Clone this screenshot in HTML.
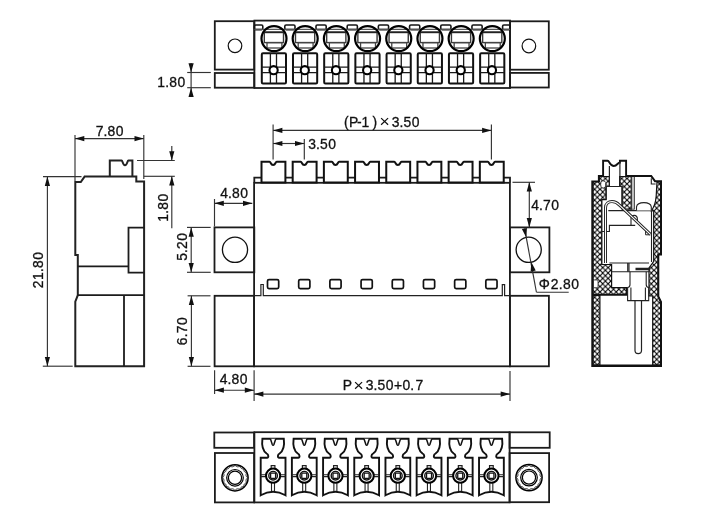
<!DOCTYPE html>
<html><head><meta charset="utf-8"><style>
html,body{margin:0;padding:0;background:#fff;}
svg{display:block;filter:grayscale(1);}
text{font-family:"Liberation Sans",sans-serif;fill:#111;stroke:#111;stroke-width:0.3px;}
</style></head><body>
<svg width="710" height="530" viewBox="0 0 710 530">
<defs>
<pattern id="xh" patternUnits="userSpaceOnUse" width="5.4" height="5.4" x="0.6" y="0.3">
<path d="M-1,-1 L6.4,6.4 M-1,6.4 L6.4,-1" stroke="#000" stroke-width="1.1"/>
</pattern>
</defs>
<g fill="none" stroke="#1c1c1c" stroke-width="1.8">
<rect x="214.8" y="21.2" width="39.4" height="48.4"/>
<rect x="214.8" y="73" width="39.4" height="14.7"/>
<rect x="510" y="21.3" width="38.8" height="48.4"/>
<rect x="510" y="72.9" width="38.8" height="14.6"/>
<rect x="254.4" y="20.6" width="255.6" height="67.4"/>
</g>
<circle cx="235" cy="45.8" r="6.8" fill="none" stroke="#111" stroke-width="1.2"/>
<circle cx="528.9" cy="46" r="6.8" fill="none" stroke="#111" stroke-width="1.2"/>
<rect x="254.40" y="25" width="8.40" height="4.6" rx="1.3" fill="none" stroke="#151515" stroke-width="1.6"/>
<rect x="284.80" y="25" width="10.20" height="4.6" rx="1.3" fill="none" stroke="#151515" stroke-width="1.6"/>
<rect x="315.99" y="25" width="10.20" height="4.6" rx="1.3" fill="none" stroke="#151515" stroke-width="1.6"/>
<rect x="347.18" y="25" width="10.20" height="4.6" rx="1.3" fill="none" stroke="#151515" stroke-width="1.6"/>
<rect x="378.37" y="25" width="10.20" height="4.6" rx="1.3" fill="none" stroke="#151515" stroke-width="1.6"/>
<rect x="409.56" y="25" width="10.20" height="4.6" rx="1.3" fill="none" stroke="#151515" stroke-width="1.6"/>
<rect x="440.75" y="25" width="10.20" height="4.6" rx="1.3" fill="none" stroke="#151515" stroke-width="1.6"/>
<rect x="471.94" y="25" width="10.20" height="4.6" rx="1.3" fill="none" stroke="#151515" stroke-width="1.6"/>
<rect x="502.60" y="25" width="7.40" height="4.6" rx="1.3" fill="none" stroke="#151515" stroke-width="1.6"/>
<path d="M254.4,29.4 H510" stroke="#555" stroke-width="1.1"/>
<rect x="264.30" y="32.3" width="19.2" height="10.3" fill="none" stroke="#3a3a3a" stroke-width="1.4"/>
<path d="M264.30,32.3 H283.50" stroke="#222" stroke-width="1.8"/>
<rect x="267.00" y="42.6" width="14.9" height="5.4" fill="none" stroke="#444" stroke-width="1.3"/>
<circle cx="274.00" cy="38.6" r="12.5" fill="none" stroke="#000" stroke-width="2.2"/>
<rect x="261.80" y="53.3" width="24.2" height="30.2" rx="1.2" fill="none" stroke="#111" stroke-width="2"/>
<path d="M270.40,53.3 V83.5 M276.50,53.3 V83.5 M261.80,67.2 H286.00 M261.80,72.6 H286.00" stroke="#1a1a1a" stroke-width="1.3" fill="none"/>
<circle cx="273.60" cy="70.2" r="4.1" fill="#fff" stroke="#000" stroke-width="2.1"/>
<rect x="295.49" y="32.3" width="19.2" height="10.3" fill="none" stroke="#3a3a3a" stroke-width="1.4"/>
<path d="M295.49,32.3 H314.69" stroke="#222" stroke-width="1.8"/>
<rect x="298.19" y="42.6" width="14.9" height="5.4" fill="none" stroke="#444" stroke-width="1.3"/>
<circle cx="305.19" cy="38.6" r="12.5" fill="none" stroke="#000" stroke-width="2.2"/>
<rect x="292.99" y="53.3" width="24.2" height="30.2" rx="1.2" fill="none" stroke="#111" stroke-width="2"/>
<path d="M301.59,53.3 V83.5 M307.69,53.3 V83.5 M292.99,67.2 H317.19 M292.99,72.6 H317.19" stroke="#1a1a1a" stroke-width="1.3" fill="none"/>
<circle cx="304.79" cy="70.2" r="4.1" fill="#fff" stroke="#000" stroke-width="2.1"/>
<rect x="326.68" y="32.3" width="19.2" height="10.3" fill="none" stroke="#3a3a3a" stroke-width="1.4"/>
<path d="M326.68,32.3 H345.88" stroke="#222" stroke-width="1.8"/>
<rect x="329.38" y="42.6" width="14.9" height="5.4" fill="none" stroke="#444" stroke-width="1.3"/>
<circle cx="336.38" cy="38.6" r="12.5" fill="none" stroke="#000" stroke-width="2.2"/>
<rect x="324.18" y="53.3" width="24.2" height="30.2" rx="1.2" fill="none" stroke="#111" stroke-width="2"/>
<path d="M332.78,53.3 V83.5 M338.88,53.3 V83.5 M324.18,67.2 H348.38 M324.18,72.6 H348.38" stroke="#1a1a1a" stroke-width="1.3" fill="none"/>
<circle cx="335.98" cy="70.2" r="4.1" fill="#fff" stroke="#000" stroke-width="2.1"/>
<rect x="357.87" y="32.3" width="19.2" height="10.3" fill="none" stroke="#3a3a3a" stroke-width="1.4"/>
<path d="M357.87,32.3 H377.07" stroke="#222" stroke-width="1.8"/>
<rect x="360.57" y="42.6" width="14.9" height="5.4" fill="none" stroke="#444" stroke-width="1.3"/>
<circle cx="367.57" cy="38.6" r="12.5" fill="none" stroke="#000" stroke-width="2.2"/>
<rect x="355.37" y="53.3" width="24.2" height="30.2" rx="1.2" fill="none" stroke="#111" stroke-width="2"/>
<path d="M363.97,53.3 V83.5 M370.07,53.3 V83.5 M355.37,67.2 H379.57 M355.37,72.6 H379.57" stroke="#1a1a1a" stroke-width="1.3" fill="none"/>
<circle cx="367.17" cy="70.2" r="4.1" fill="#fff" stroke="#000" stroke-width="2.1"/>
<rect x="389.06" y="32.3" width="19.2" height="10.3" fill="none" stroke="#3a3a3a" stroke-width="1.4"/>
<path d="M389.06,32.3 H408.26" stroke="#222" stroke-width="1.8"/>
<rect x="391.76" y="42.6" width="14.9" height="5.4" fill="none" stroke="#444" stroke-width="1.3"/>
<circle cx="398.76" cy="38.6" r="12.5" fill="none" stroke="#000" stroke-width="2.2"/>
<rect x="386.56" y="53.3" width="24.2" height="30.2" rx="1.2" fill="none" stroke="#111" stroke-width="2"/>
<path d="M395.16,53.3 V83.5 M401.26,53.3 V83.5 M386.56,67.2 H410.76 M386.56,72.6 H410.76" stroke="#1a1a1a" stroke-width="1.3" fill="none"/>
<circle cx="398.36" cy="70.2" r="4.1" fill="#fff" stroke="#000" stroke-width="2.1"/>
<rect x="420.25" y="32.3" width="19.2" height="10.3" fill="none" stroke="#3a3a3a" stroke-width="1.4"/>
<path d="M420.25,32.3 H439.45" stroke="#222" stroke-width="1.8"/>
<rect x="422.95" y="42.6" width="14.9" height="5.4" fill="none" stroke="#444" stroke-width="1.3"/>
<circle cx="429.95" cy="38.6" r="12.5" fill="none" stroke="#000" stroke-width="2.2"/>
<rect x="417.75" y="53.3" width="24.2" height="30.2" rx="1.2" fill="none" stroke="#111" stroke-width="2"/>
<path d="M426.35,53.3 V83.5 M432.45,53.3 V83.5 M417.75,67.2 H441.95 M417.75,72.6 H441.95" stroke="#1a1a1a" stroke-width="1.3" fill="none"/>
<circle cx="429.55" cy="70.2" r="4.1" fill="#fff" stroke="#000" stroke-width="2.1"/>
<rect x="451.44" y="32.3" width="19.2" height="10.3" fill="none" stroke="#3a3a3a" stroke-width="1.4"/>
<path d="M451.44,32.3 H470.64" stroke="#222" stroke-width="1.8"/>
<rect x="454.14" y="42.6" width="14.9" height="5.4" fill="none" stroke="#444" stroke-width="1.3"/>
<circle cx="461.14" cy="38.6" r="12.5" fill="none" stroke="#000" stroke-width="2.2"/>
<rect x="448.94" y="53.3" width="24.2" height="30.2" rx="1.2" fill="none" stroke="#111" stroke-width="2"/>
<path d="M457.54,53.3 V83.5 M463.64,53.3 V83.5 M448.94,67.2 H473.14 M448.94,72.6 H473.14" stroke="#1a1a1a" stroke-width="1.3" fill="none"/>
<circle cx="460.74" cy="70.2" r="4.1" fill="#fff" stroke="#000" stroke-width="2.1"/>
<rect x="482.63" y="32.3" width="19.2" height="10.3" fill="none" stroke="#3a3a3a" stroke-width="1.4"/>
<path d="M482.63,32.3 H501.83" stroke="#222" stroke-width="1.8"/>
<rect x="485.33" y="42.6" width="14.9" height="5.4" fill="none" stroke="#444" stroke-width="1.3"/>
<circle cx="492.33" cy="38.6" r="12.5" fill="none" stroke="#000" stroke-width="2.2"/>
<rect x="480.13" y="53.3" width="24.2" height="30.2" rx="1.2" fill="none" stroke="#111" stroke-width="2"/>
<path d="M488.73,53.3 V83.5 M494.83,53.3 V83.5 M480.13,67.2 H504.33 M480.13,72.6 H504.33" stroke="#1a1a1a" stroke-width="1.3" fill="none"/>
<circle cx="491.93" cy="70.2" r="4.1" fill="#fff" stroke="#000" stroke-width="2.1"/>
<line x1="187.20" y1="72.50" x2="210.80" y2="72.50" stroke="#333" stroke-width="1.15"/>
<line x1="187.20" y1="87.70" x2="210.80" y2="87.70" stroke="#333" stroke-width="1.15"/>
<line x1="191.10" y1="63.00" x2="191.10" y2="97.00" stroke="#333" stroke-width="1.15"/>
<path d="M191.10,72.50 L188.50,63.20 L193.70,63.20 Z" fill="#111"/>
<path d="M191.10,87.70 L193.70,97.00 L188.50,97.00 Z" fill="#111"/>
<text x="157.24 165.27 169.23 177.53" y="86.5" font-size="13.9">1.80</text>
<g fill="none" stroke="#1c1c1c" stroke-width="1.8">
<rect x="254.1" y="182.8" width="255.8" height="183.5"/>
<rect x="214.5" y="227.4" width="39.8" height="44.9"/>
<rect x="509.9" y="227.4" width="39.5" height="44.9"/>
<rect x="214.6" y="295.8" width="39.5" height="70.5"/>
<rect x="509.9" y="295.8" width="39.0" height="70.5"/>
<path d="M254.3,182.5 V177.6 H510 V182.5"/>
</g>
<circle cx="235" cy="249.8" r="12.6" fill="none" stroke="#111" stroke-width="1.3"/>
<circle cx="528.7" cy="249.8" r="12.6" fill="none" stroke="#111" stroke-width="1.3"/>
<path d="M261.50,182.5 V161.8 H269.50 C270.90,161.8 270.50,165 273.10,165 C275.70,165 275.30,161.8 276.70,161.8 H285.40 V182.5 Z" fill="#fff" stroke="#111" stroke-width="2"/>
<rect x="267.50" y="279.6" width="11.2" height="9" rx="1.5" fill="none" stroke="#111" stroke-width="1.7"/>
<path d="M292.69,182.5 V161.8 H300.69 C302.09,161.8 301.69,165 304.29,165 C306.89,165 306.49,161.8 307.89,161.8 H316.59 V182.5 Z" fill="#fff" stroke="#111" stroke-width="2"/>
<rect x="298.69" y="279.6" width="11.2" height="9" rx="1.5" fill="none" stroke="#111" stroke-width="1.7"/>
<path d="M323.88,182.5 V161.8 H331.88 C333.28,161.8 332.88,165 335.48,165 C338.08,165 337.68,161.8 339.08,161.8 H347.78 V182.5 Z" fill="#fff" stroke="#111" stroke-width="2"/>
<rect x="329.88" y="279.6" width="11.2" height="9" rx="1.5" fill="none" stroke="#111" stroke-width="1.7"/>
<path d="M355.07,182.5 V161.8 H363.07 C364.47,161.8 364.07,165 366.67,165 C369.27,165 368.87,161.8 370.27,161.8 H378.97 V182.5 Z" fill="#fff" stroke="#111" stroke-width="2"/>
<rect x="361.07" y="279.6" width="11.2" height="9" rx="1.5" fill="none" stroke="#111" stroke-width="1.7"/>
<path d="M386.26,182.5 V161.8 H394.26 C395.66,161.8 395.26,165 397.86,165 C400.46,165 400.06,161.8 401.46,161.8 H410.16 V182.5 Z" fill="#fff" stroke="#111" stroke-width="2"/>
<rect x="392.26" y="279.6" width="11.2" height="9" rx="1.5" fill="none" stroke="#111" stroke-width="1.7"/>
<path d="M417.45,182.5 V161.8 H425.45 C426.85,161.8 426.45,165 429.05,165 C431.65,165 431.25,161.8 432.65,161.8 H441.35 V182.5 Z" fill="#fff" stroke="#111" stroke-width="2"/>
<rect x="423.45" y="279.6" width="11.2" height="9" rx="1.5" fill="none" stroke="#111" stroke-width="1.7"/>
<path d="M448.64,182.5 V161.8 H456.64 C458.04,161.8 457.64,165 460.24,165 C462.84,165 462.44,161.8 463.84,161.8 H472.54 V182.5 Z" fill="#fff" stroke="#111" stroke-width="2"/>
<rect x="454.64" y="279.6" width="11.2" height="9" rx="1.5" fill="none" stroke="#111" stroke-width="1.7"/>
<path d="M479.83,182.5 V161.8 H487.83 C489.23,161.8 488.83,165 491.43,165 C494.03,165 493.63,161.8 495.03,161.8 H503.73 V182.5 Z" fill="#fff" stroke="#111" stroke-width="2"/>
<rect x="485.83" y="279.6" width="11.2" height="9" rx="1.5" fill="none" stroke="#111" stroke-width="1.7"/>
<path d="M254.3,295.6 H260.9 V284.5 H263.3 V295.6 H502.3 V284.6 H504.6 V295.6 H510" fill="none" stroke="#222" stroke-width="1.2"/>
<line x1="273.10" y1="124.50" x2="273.10" y2="159.50" stroke="#333" stroke-width="1.15"/>
<line x1="491.40" y1="124.50" x2="491.40" y2="159.50" stroke="#333" stroke-width="1.15"/>
<line x1="273.10" y1="130.40" x2="491.40" y2="130.40" stroke="#333" stroke-width="1.15"/>
<path d="M273.10,130.40 L282.40,127.80 L282.40,133.00 Z" fill="#111"/>
<path d="M491.40,130.40 L482.10,133.00 L482.10,127.80 Z" fill="#111"/>
<text x="343.90 349.06 356.89 361.39 372.58" y="126.6" font-size="13.9">(P-1)</text>
<path d="M381.1,118.1 L388.1,124.8 M388.1,118.1 L381.1,124.8" stroke="#111" stroke-width="1.2" fill="none"/>
<text x="391.68 399.47 403.45 411.73" y="126.6" font-size="13.9">3.50</text>
<line x1="304.30" y1="139.00" x2="304.30" y2="159.50" stroke="#333" stroke-width="1.15"/>
<line x1="273.10" y1="143.50" x2="304.30" y2="143.50" stroke="#333" stroke-width="1.15"/>
<path d="M273.10,143.50 L282.40,140.90 L282.40,146.10 Z" fill="#111"/>
<path d="M304.30,143.50 L295.00,146.10 L295.00,140.90 Z" fill="#111"/>
<text x="308.13 315.92 319.90 328.18" y="149.2" font-size="13.9">3.50</text>
<line x1="214.50" y1="199.00" x2="214.50" y2="226.50" stroke="#333" stroke-width="1.15"/>
<line x1="214.50" y1="203.30" x2="252.30" y2="203.30" stroke="#333" stroke-width="1.15"/>
<path d="M214.50,203.30 L223.80,200.70 L223.80,205.90 Z" fill="#111"/>
<path d="M252.30,203.30 L243.00,205.90 L243.00,200.70 Z" fill="#111"/>
<text x="220.28 228.07 232.03 240.33" y="197.6" font-size="13.9">4.80</text>
<line x1="187.00" y1="227.40" x2="210.70" y2="227.40" stroke="#333" stroke-width="1.15"/>
<line x1="187.00" y1="272.30" x2="210.70" y2="272.30" stroke="#333" stroke-width="1.15"/>
<line x1="191.20" y1="227.40" x2="191.20" y2="272.30" stroke="#333" stroke-width="1.15"/>
<path d="M191.20,227.40 L193.80,236.70 L188.60,236.70 Z" fill="#111"/>
<path d="M191.20,272.30 L188.60,263.00 L193.80,263.00 Z" fill="#111"/>
<text x="4.15 11.97 15.93 24.23" y="0" font-size="13.9" transform="translate(186.7 265) rotate(-90)">5.20</text>
<line x1="187.60" y1="295.80" x2="210.50" y2="295.80" stroke="#333" stroke-width="1.15"/>
<line x1="187.60" y1="366.30" x2="210.50" y2="366.30" stroke="#333" stroke-width="1.15"/>
<line x1="191.40" y1="295.80" x2="191.40" y2="366.30" stroke="#333" stroke-width="1.15"/>
<path d="M191.40,295.80 L194.00,305.10 L188.80,305.10 Z" fill="#111"/>
<path d="M191.40,366.30 L188.80,357.00 L194.00,357.00 Z" fill="#111"/>
<text x="4.89 12.77 16.73 25.03" y="0" font-size="13.9" transform="translate(187.4 350) rotate(-90)">6.70</text>
<line x1="214.60" y1="370.20" x2="214.60" y2="394.00" stroke="#333" stroke-width="1.15"/>
<line x1="254.10" y1="370.20" x2="254.10" y2="401.00" stroke="#333" stroke-width="1.15"/>
<line x1="214.60" y1="390.20" x2="254.10" y2="390.20" stroke="#333" stroke-width="1.15"/>
<path d="M214.60,390.20 L223.90,387.60 L223.90,392.80 Z" fill="#111"/>
<path d="M254.10,390.20 L244.80,392.80 L244.80,387.60 Z" fill="#111"/>
<text x="219.63 227.42 231.38 239.68" y="384.4" font-size="13.9">4.80</text>
<line x1="510.00" y1="371.00" x2="510.00" y2="401.00" stroke="#333" stroke-width="1.15"/>
<line x1="254.10" y1="394.10" x2="510.00" y2="394.10" stroke="#333" stroke-width="1.15"/>
<path d="M254.10,394.10 L263.40,391.50 L263.40,396.70 Z" fill="#111"/>
<path d="M510.00,394.10 L500.70,396.70 L500.70,391.50 Z" fill="#111"/>
<text x="342.81" y="390.4" font-size="13.9">P</text>
<path d="M355.1,382.1 L362.1,388.8 M362.1,382.1 L355.1,388.8" stroke="#111" stroke-width="1.2" fill="none"/>
<text x="365.73 373.47 377.50 385.78 393.89 402.38 410.17 415.43" y="390.4" font-size="13.9">3.50+0.7</text>
<line x1="512.50" y1="182.30" x2="535.00" y2="182.30" stroke="#333" stroke-width="1.15"/>
<line x1="529.30" y1="182.30" x2="529.30" y2="227.40" stroke="#333" stroke-width="1.15"/>
<path d="M529.30,182.30 L531.90,191.60 L526.70,191.60 Z" fill="#111"/>
<path d="M529.30,227.40 L526.70,218.10 L531.90,218.10 Z" fill="#111"/>
<text x="531.18 538.97 542.93 551.23" y="209.9" font-size="13.9">4.70</text>
<line x1="524.60" y1="228.50" x2="536.40" y2="292.20" stroke="#333" stroke-width="1.15"/>
<line x1="536.40" y1="292.20" x2="568.70" y2="292.20" stroke="#333" stroke-width="1.15"/>
<path d="M526.30,237.60 L521.87,229.02 L526.96,227.97 Z" fill="#111"/>
<path d="M531.30,262.00 L535.73,270.58 L530.64,271.63 Z" fill="#111"/>
<text x="538.85 550.73 558.77 562.93 571.23" y="288.6" font-size="13.9">Φ2.80</text>
<path d="M75.3,182 H80.8 L84.6,176.6 H136.3 V181.6 H144.1 V366.2 H75.3 V301.6 L77.8,295.2 V255 H75.3 Z" fill="none" stroke="#222" stroke-width="2"/>
<path d="M109.8,176.6 V160.5 H121.6 C122.8,160.5 122.6,165.3 125,165.3 C127.4,165.3 127.2,160.5 128.4,160.5 H132.4 V176.6" fill="none" stroke="#222" stroke-width="2"/>
<path d="M144.1,227.6 H128.5 V272.7 H144.1 M77.8,266.3 H128.5 M77.8,295.2 H144.1 M124,295.2 V366.2" fill="none" stroke="#1c1c1c" stroke-width="1.8"/>
<line x1="75.00" y1="135.00" x2="75.00" y2="181.00" stroke="#333" stroke-width="1.15"/>
<line x1="143.80" y1="135.00" x2="143.80" y2="179.00" stroke="#333" stroke-width="1.15"/>
<line x1="75.00" y1="138.60" x2="143.80" y2="138.60" stroke="#333" stroke-width="1.15"/>
<path d="M75.00,138.60 L84.30,136.00 L84.30,141.20 Z" fill="#111"/>
<path d="M143.80,138.60 L134.50,141.20 L134.50,136.00 Z" fill="#111"/>
<text x="95.73 103.57 107.53 115.83" y="135.6" font-size="13.9">7.80</text>
<line x1="43.00" y1="176.60" x2="81.50" y2="176.60" stroke="#333" stroke-width="1.15"/>
<line x1="42.80" y1="366.20" x2="72.70" y2="366.20" stroke="#333" stroke-width="1.15"/>
<line x1="47.40" y1="176.60" x2="47.40" y2="366.20" stroke="#333" stroke-width="1.15"/>
<path d="M47.40,176.60 L50.00,185.90 L44.80,185.90 Z" fill="#111"/>
<path d="M47.40,366.20 L44.80,356.90 L50.00,356.90 Z" fill="#111"/>
<text x="1.83 9.94 17.97 21.93 30.23" y="0" font-size="13.9" transform="translate(42.6 290) rotate(-90)">21.80</text>
<line x1="137.00" y1="160.50" x2="174.80" y2="160.50" stroke="#333" stroke-width="1.15"/>
<line x1="143.80" y1="176.30" x2="174.80" y2="176.30" stroke="#333" stroke-width="1.15"/>
<line x1="171.80" y1="146.00" x2="171.80" y2="160.50" stroke="#333" stroke-width="1.15"/>
<line x1="171.80" y1="176.30" x2="171.80" y2="228.30" stroke="#333" stroke-width="1.15"/>
<path d="M171.80,160.50 L169.20,151.20 L174.40,151.20 Z" fill="#111"/>
<path d="M171.80,176.30 L174.40,185.60 L169.20,185.60 Z" fill="#111"/>
<text x="0.34 8.37 12.33 20.63" y="0" font-size="13.9" transform="translate(168 222) rotate(-90)">1.80</text>
<g fill="none" stroke="#1c1c1c" stroke-width="1.8">
<rect x="214.3" y="432.5" width="39.8" height="15.3"/>
<rect x="214.9" y="453" width="39.2" height="49.4"/>
<rect x="509.6" y="432.3" width="40.1" height="15.5"/>
<rect x="509.6" y="453.1" width="39.5" height="49.1"/>
<rect x="254.4" y="432.2" width="255.2" height="70.2"/>
</g>
<circle cx="235" cy="477.8" r="13.1" fill="none" stroke="#000" stroke-width="1.5"/>
<polyline points="247.50,477.80 247.02,478.27 246.68,478.72 246.41,479.15 246.21,479.58 246.08,480.00 246.03,480.45 246.06,480.92 246.14,481.42 246.29,481.96 246.55,482.58 245.93,482.84 245.44,483.12 245.02,483.41 244.68,483.73 244.40,484.08 244.18,484.47 244.02,484.91 243.91,485.41 243.83,485.97 243.84,486.64 243.17,486.63 242.61,486.71 242.11,486.82 241.67,486.98 241.28,487.20 240.93,487.48 240.61,487.82 240.32,488.24 240.04,488.73 239.78,489.35 239.16,489.09 238.62,488.94 238.12,488.86 237.65,488.83 237.20,488.88 236.78,489.01 236.35,489.21 235.92,489.48 235.47,489.82 235.00,490.30 234.53,489.82 234.08,489.48 233.65,489.21 233.22,489.01 232.80,488.88 232.35,488.83 231.88,488.86 231.38,488.94 230.84,489.09 230.22,489.35 229.96,488.73 229.68,488.24 229.39,487.82 229.07,487.48 228.72,487.20 228.33,486.98 227.89,486.82 227.39,486.71 226.83,486.63 226.16,486.64 226.17,485.97 226.09,485.41 225.98,484.91 225.82,484.47 225.60,484.08 225.32,483.73 224.98,483.41 224.56,483.12 224.07,482.84 223.45,482.58 223.71,481.96 223.86,481.42 223.94,480.92 223.97,480.45 223.92,480.00 223.79,479.58 223.59,479.15 223.32,478.72 222.98,478.27 222.50,477.80 222.98,477.33 223.32,476.88 223.59,476.45 223.79,476.02 223.92,475.60 223.97,475.15 223.94,474.68 223.86,474.18 223.71,473.64 223.45,473.02 224.07,472.76 224.56,472.48 224.98,472.19 225.32,471.87 225.60,471.52 225.82,471.13 225.98,470.69 226.09,470.19 226.17,469.63 226.16,468.96 226.83,468.97 227.39,468.89 227.89,468.78 228.33,468.62 228.72,468.40 229.07,468.12 229.39,467.78 229.68,467.36 229.96,466.87 230.22,466.25 230.84,466.51 231.38,466.66 231.88,466.74 232.35,466.77 232.80,466.72 233.22,466.59 233.65,466.39 234.08,466.12 234.53,465.78 235.00,465.30 235.47,465.78 235.92,466.12 236.35,466.39 236.78,466.59 237.20,466.72 237.65,466.77 238.12,466.74 238.62,466.66 239.16,466.51 239.78,466.25 240.04,466.87 240.32,467.36 240.61,467.78 240.93,468.12 241.28,468.40 241.67,468.62 242.11,468.78 242.61,468.89 243.17,468.97 243.84,468.96 243.83,469.63 243.91,470.19 244.02,470.69 244.18,471.13 244.40,471.52 244.68,471.87 245.02,472.19 245.44,472.48 245.93,472.76 246.55,473.02 246.29,473.64 246.14,474.18 246.06,474.68 246.03,475.15 246.08,475.60 246.21,476.02 246.41,476.45 246.68,476.88 247.02,477.33 247.50,477.80" fill="none" stroke="#222" stroke-width="1.0"/>
<circle cx="235" cy="477.8" r="8.3" fill="none" stroke="#000" stroke-width="1.2"/>
<circle cx="235" cy="477.8" r="6.6" fill="none" stroke="#000" stroke-width="1.2"/>
<circle cx="529" cy="477.6" r="13.1" fill="none" stroke="#000" stroke-width="1.5"/>
<polyline points="541.50,477.60 541.02,478.07 540.68,478.52 540.41,478.95 540.21,479.38 540.08,479.80 540.03,480.25 540.06,480.72 540.14,481.22 540.29,481.76 540.55,482.38 539.93,482.64 539.44,482.92 539.02,483.21 538.68,483.53 538.40,483.88 538.18,484.27 538.02,484.71 537.91,485.21 537.83,485.77 537.84,486.44 537.17,486.43 536.61,486.51 536.11,486.62 535.67,486.78 535.28,487.00 534.93,487.28 534.61,487.62 534.32,488.04 534.04,488.53 533.78,489.15 533.16,488.89 532.62,488.74 532.12,488.66 531.65,488.63 531.20,488.68 530.78,488.81 530.35,489.01 529.92,489.28 529.47,489.62 529.00,490.10 528.53,489.62 528.08,489.28 527.65,489.01 527.22,488.81 526.80,488.68 526.35,488.63 525.88,488.66 525.38,488.74 524.84,488.89 524.22,489.15 523.96,488.53 523.68,488.04 523.39,487.62 523.07,487.28 522.72,487.00 522.33,486.78 521.89,486.62 521.39,486.51 520.83,486.43 520.16,486.44 520.17,485.77 520.09,485.21 519.98,484.71 519.82,484.27 519.60,483.88 519.32,483.53 518.98,483.21 518.56,482.92 518.07,482.64 517.45,482.38 517.71,481.76 517.86,481.22 517.94,480.72 517.97,480.25 517.92,479.80 517.79,479.38 517.59,478.95 517.32,478.52 516.98,478.07 516.50,477.60 516.98,477.13 517.32,476.68 517.59,476.25 517.79,475.82 517.92,475.40 517.97,474.95 517.94,474.48 517.86,473.98 517.71,473.44 517.45,472.82 518.07,472.56 518.56,472.28 518.98,471.99 519.32,471.67 519.60,471.32 519.82,470.93 519.98,470.49 520.09,469.99 520.17,469.43 520.16,468.76 520.83,468.77 521.39,468.69 521.89,468.58 522.33,468.42 522.72,468.20 523.07,467.92 523.39,467.58 523.68,467.16 523.96,466.67 524.22,466.05 524.84,466.31 525.38,466.46 525.88,466.54 526.35,466.57 526.80,466.52 527.22,466.39 527.65,466.19 528.08,465.92 528.53,465.58 529.00,465.10 529.47,465.58 529.92,465.92 530.35,466.19 530.78,466.39 531.20,466.52 531.65,466.57 532.12,466.54 532.62,466.46 533.16,466.31 533.78,466.05 534.04,466.67 534.32,467.16 534.61,467.58 534.93,467.92 535.28,468.20 535.67,468.42 536.11,468.58 536.61,468.69 537.17,468.77 537.84,468.76 537.83,469.43 537.91,469.99 538.02,470.49 538.18,470.93 538.40,471.32 538.68,471.67 539.02,471.99 539.44,472.28 539.93,472.56 540.55,472.82 540.29,473.44 540.14,473.98 540.06,474.48 540.03,474.95 540.08,475.40 540.21,475.82 540.41,476.25 540.68,476.68 541.02,477.13 541.50,477.60" fill="none" stroke="#222" stroke-width="1.0"/>
<circle cx="529" cy="477.6" r="8.3" fill="none" stroke="#000" stroke-width="1.2"/>
<circle cx="529" cy="477.6" r="6.6" fill="none" stroke="#000" stroke-width="1.2"/>
<path d="M262.40,438.8 C261.60,445 262.60,450.5 266.60,453.5 C268.80,454.6 268.80,457.6 267.10,457.7 H260.70 V495.3 Q273.10,488.2 285.50,495.3 V457.7 H279.10 C277.40,457.6 277.40,454.6 279.60,453.5 C283.60,450.5 284.60,445 283.80,438.8 Z" fill="none" stroke="#111" stroke-width="1.9"/>
<path d="M270.40,438.8 L272.20,444.3 Q273.10,446 274.00,444.3 L275.80,438.8" fill="#fff" stroke="#111" stroke-width="1.5"/>
<path d="M260.70,474.8 H266.60 M260.70,476.6 H266.60 M279.60,474.8 H285.50 M279.60,476.6 H285.50 M271.50,482 V491 M274.50,482 V491" stroke="#222" stroke-width="1.1" fill="none"/>
<path d="M271.20,468.5 V465.7 H274.90 V468.5" stroke="#222" stroke-width="1.2" fill="none"/>
<circle cx="273.10" cy="475.7" r="7.1" fill="#fff" stroke="#000" stroke-width="2"/>
<circle cx="273.10" cy="475.7" r="4.3" fill="none" stroke="#111" stroke-width="1.4"/>
<rect x="270.60" y="473.1" width="5" height="5.2" rx="0.6" fill="none" stroke="#111" stroke-width="1.3"/>
<path d="M293.59,438.8 C292.79,445 293.79,450.5 297.79,453.5 C299.99,454.6 299.99,457.6 298.29,457.7 H291.89 V495.3 Q304.29,488.2 316.69,495.3 V457.7 H310.29 C308.59,457.6 308.59,454.6 310.79,453.5 C314.79,450.5 315.79,445 314.99,438.8 Z" fill="none" stroke="#111" stroke-width="1.9"/>
<path d="M301.59,438.8 L303.39,444.3 Q304.29,446 305.19,444.3 L306.99,438.8" fill="#fff" stroke="#111" stroke-width="1.5"/>
<path d="M291.89,474.8 H297.79 M291.89,476.6 H297.79 M310.79,474.8 H316.69 M310.79,476.6 H316.69 M302.69,482 V491 M305.69,482 V491" stroke="#222" stroke-width="1.1" fill="none"/>
<path d="M302.39,468.5 V465.7 H306.09 V468.5" stroke="#222" stroke-width="1.2" fill="none"/>
<circle cx="304.29" cy="475.7" r="7.1" fill="#fff" stroke="#000" stroke-width="2"/>
<circle cx="304.29" cy="475.7" r="4.3" fill="none" stroke="#111" stroke-width="1.4"/>
<rect x="301.79" y="473.1" width="5" height="5.2" rx="0.6" fill="none" stroke="#111" stroke-width="1.3"/>
<path d="M324.78,438.8 C323.98,445 324.98,450.5 328.98,453.5 C331.18,454.6 331.18,457.6 329.48,457.7 H323.08 V495.3 Q335.48,488.2 347.88,495.3 V457.7 H341.48 C339.78,457.6 339.78,454.6 341.98,453.5 C345.98,450.5 346.98,445 346.18,438.8 Z" fill="none" stroke="#111" stroke-width="1.9"/>
<path d="M332.78,438.8 L334.58,444.3 Q335.48,446 336.38,444.3 L338.18,438.8" fill="#fff" stroke="#111" stroke-width="1.5"/>
<path d="M323.08,474.8 H328.98 M323.08,476.6 H328.98 M341.98,474.8 H347.88 M341.98,476.6 H347.88 M333.88,482 V491 M336.88,482 V491" stroke="#222" stroke-width="1.1" fill="none"/>
<path d="M333.58,468.5 V465.7 H337.28 V468.5" stroke="#222" stroke-width="1.2" fill="none"/>
<circle cx="335.48" cy="475.7" r="7.1" fill="#fff" stroke="#000" stroke-width="2"/>
<circle cx="335.48" cy="475.7" r="4.3" fill="none" stroke="#111" stroke-width="1.4"/>
<rect x="332.98" y="473.1" width="5" height="5.2" rx="0.6" fill="none" stroke="#111" stroke-width="1.3"/>
<path d="M355.97,438.8 C355.17,445 356.17,450.5 360.17,453.5 C362.37,454.6 362.37,457.6 360.67,457.7 H354.27 V495.3 Q366.67,488.2 379.07,495.3 V457.7 H372.67 C370.97,457.6 370.97,454.6 373.17,453.5 C377.17,450.5 378.17,445 377.37,438.8 Z" fill="none" stroke="#111" stroke-width="1.9"/>
<path d="M363.97,438.8 L365.77,444.3 Q366.67,446 367.57,444.3 L369.37,438.8" fill="#fff" stroke="#111" stroke-width="1.5"/>
<path d="M354.27,474.8 H360.17 M354.27,476.6 H360.17 M373.17,474.8 H379.07 M373.17,476.6 H379.07 M365.07,482 V491 M368.07,482 V491" stroke="#222" stroke-width="1.1" fill="none"/>
<path d="M364.77,468.5 V465.7 H368.47 V468.5" stroke="#222" stroke-width="1.2" fill="none"/>
<circle cx="366.67" cy="475.7" r="7.1" fill="#fff" stroke="#000" stroke-width="2"/>
<circle cx="366.67" cy="475.7" r="4.3" fill="none" stroke="#111" stroke-width="1.4"/>
<rect x="364.17" y="473.1" width="5" height="5.2" rx="0.6" fill="none" stroke="#111" stroke-width="1.3"/>
<path d="M387.16,438.8 C386.36,445 387.36,450.5 391.36,453.5 C393.56,454.6 393.56,457.6 391.86,457.7 H385.46 V495.3 Q397.86,488.2 410.26,495.3 V457.7 H403.86 C402.16,457.6 402.16,454.6 404.36,453.5 C408.36,450.5 409.36,445 408.56,438.8 Z" fill="none" stroke="#111" stroke-width="1.9"/>
<path d="M395.16,438.8 L396.96,444.3 Q397.86,446 398.76,444.3 L400.56,438.8" fill="#fff" stroke="#111" stroke-width="1.5"/>
<path d="M385.46,474.8 H391.36 M385.46,476.6 H391.36 M404.36,474.8 H410.26 M404.36,476.6 H410.26 M396.26,482 V491 M399.26,482 V491" stroke="#222" stroke-width="1.1" fill="none"/>
<path d="M395.96,468.5 V465.7 H399.66 V468.5" stroke="#222" stroke-width="1.2" fill="none"/>
<circle cx="397.86" cy="475.7" r="7.1" fill="#fff" stroke="#000" stroke-width="2"/>
<circle cx="397.86" cy="475.7" r="4.3" fill="none" stroke="#111" stroke-width="1.4"/>
<rect x="395.36" y="473.1" width="5" height="5.2" rx="0.6" fill="none" stroke="#111" stroke-width="1.3"/>
<path d="M418.35,438.8 C417.55,445 418.55,450.5 422.55,453.5 C424.75,454.6 424.75,457.6 423.05,457.7 H416.65 V495.3 Q429.05,488.2 441.45,495.3 V457.7 H435.05 C433.35,457.6 433.35,454.6 435.55,453.5 C439.55,450.5 440.55,445 439.75,438.8 Z" fill="none" stroke="#111" stroke-width="1.9"/>
<path d="M426.35,438.8 L428.15,444.3 Q429.05,446 429.95,444.3 L431.75,438.8" fill="#fff" stroke="#111" stroke-width="1.5"/>
<path d="M416.65,474.8 H422.55 M416.65,476.6 H422.55 M435.55,474.8 H441.45 M435.55,476.6 H441.45 M427.45,482 V491 M430.45,482 V491" stroke="#222" stroke-width="1.1" fill="none"/>
<path d="M427.15,468.5 V465.7 H430.85 V468.5" stroke="#222" stroke-width="1.2" fill="none"/>
<circle cx="429.05" cy="475.7" r="7.1" fill="#fff" stroke="#000" stroke-width="2"/>
<circle cx="429.05" cy="475.7" r="4.3" fill="none" stroke="#111" stroke-width="1.4"/>
<rect x="426.55" y="473.1" width="5" height="5.2" rx="0.6" fill="none" stroke="#111" stroke-width="1.3"/>
<path d="M449.54,438.8 C448.74,445 449.74,450.5 453.74,453.5 C455.94,454.6 455.94,457.6 454.24,457.7 H447.84 V495.3 Q460.24,488.2 472.64,495.3 V457.7 H466.24 C464.54,457.6 464.54,454.6 466.74,453.5 C470.74,450.5 471.74,445 470.94,438.8 Z" fill="none" stroke="#111" stroke-width="1.9"/>
<path d="M457.54,438.8 L459.34,444.3 Q460.24,446 461.14,444.3 L462.94,438.8" fill="#fff" stroke="#111" stroke-width="1.5"/>
<path d="M447.84,474.8 H453.74 M447.84,476.6 H453.74 M466.74,474.8 H472.64 M466.74,476.6 H472.64 M458.64,482 V491 M461.64,482 V491" stroke="#222" stroke-width="1.1" fill="none"/>
<path d="M458.34,468.5 V465.7 H462.04 V468.5" stroke="#222" stroke-width="1.2" fill="none"/>
<circle cx="460.24" cy="475.7" r="7.1" fill="#fff" stroke="#000" stroke-width="2"/>
<circle cx="460.24" cy="475.7" r="4.3" fill="none" stroke="#111" stroke-width="1.4"/>
<rect x="457.74" y="473.1" width="5" height="5.2" rx="0.6" fill="none" stroke="#111" stroke-width="1.3"/>
<path d="M480.73,438.8 C479.93,445 480.93,450.5 484.93,453.5 C487.13,454.6 487.13,457.6 485.43,457.7 H479.03 V495.3 Q491.43,488.2 503.83,495.3 V457.7 H497.43 C495.73,457.6 495.73,454.6 497.93,453.5 C501.93,450.5 502.93,445 502.13,438.8 Z" fill="none" stroke="#111" stroke-width="1.9"/>
<path d="M488.73,438.8 L490.53,444.3 Q491.43,446 492.33,444.3 L494.13,438.8" fill="#fff" stroke="#111" stroke-width="1.5"/>
<path d="M479.03,474.8 H484.93 M479.03,476.6 H484.93 M497.93,474.8 H503.83 M497.93,476.6 H503.83 M489.83,482 V491 M492.83,482 V491" stroke="#222" stroke-width="1.1" fill="none"/>
<path d="M489.53,468.5 V465.7 H493.23 V468.5" stroke="#222" stroke-width="1.2" fill="none"/>
<circle cx="491.43" cy="475.7" r="7.1" fill="#fff" stroke="#000" stroke-width="2"/>
<circle cx="491.43" cy="475.7" r="4.3" fill="none" stroke="#111" stroke-width="1.4"/>
<rect x="488.93" y="473.1" width="5" height="5.2" rx="0.6" fill="none" stroke="#111" stroke-width="1.3"/>
<path d="M593,181.5 H599 V176.5 H609.4 V186.5 H606.1 V199.7 H601.7 V264.5 H611.6 V287.7 H626.5 V294.3 H593 Z" fill="url(#xh)" stroke="#111" stroke-width="1.2"/>
<path d="M593,295.3 H599.9 V365 H593 Z" fill="url(#xh)" stroke="#111" stroke-width="1.2"/>
<path d="M619.6,176.5 H631.4 V209.2 H622.2 V186.3 H619.6 Z" fill="url(#xh)" stroke="#111" stroke-width="1.2"/>
<path d="M657,182 H660.8 V254.5 H658.3 V296.4 L660.8,302 V365 H652.7 V296 H649 V268 L653.6,261.5 V210.6 H651.3 C654,207.5 655.6,203 656.2,196 L657,182 Z" fill="url(#xh)" stroke="#111" stroke-width="1.2"/>
<path d="M601,181.5 Q604.5,179.8 605.8,182.5 L605.6,186.8 Q603.5,188.8 601.2,187.6 Q600.2,184.5 601,181.5 Z" fill="#fff" stroke="#222" stroke-width="0.9"/>
<path d="M593.5,280 H598 V287.7 H593.5 Z" fill="#fff" stroke="#333" stroke-width="0.8"/>
<rect x="631.6" y="176.5" width="2.9" height="32.7" fill="#bdbdbd" stroke="#333" stroke-width="0.8"/>
<path d="M609.4,176 H598.9 V181.5 H592.3 V366 H661 V302 L658.3,296.4 V254.5 H661 V181.2 H655 L651.2,176 H619.9" fill="none" stroke="#111" stroke-width="2"/>
<path d="M603.1,176 V160.7 H607.6 C609.5,160.7 610,166 613.8,166 C617.2,166 617.6,162.5 619.9,162.5 V160.7 H626.1 V176" fill="#fff" stroke="#111" stroke-width="1.9"/>
<path d="M609.4,166 V186.5 M619.9,162.5 V186.5 M606.1,186.5 H622 M606.1,186.5 V199.7 M622,186.5 V209" fill="none" stroke="#222" stroke-width="1.2"/>
<path d="M601.7,199.7 V264.5 M608.3,210.6 H653.6 M651.5,210.6 V262 M653.6,210.6 V261.5 M601,231.5 H609.4 V225.4 H635.2 M609.4,263 H649 M611.6,271.8 H649 M635.5,268.4 H650 M635.5,269.6 H650" fill="none" stroke="#222" stroke-width="1.1"/>
<path d="M651.3,178.3 V184 H655.6" fill="none" stroke="#222" stroke-width="1.1"/>
<path d="M636.5,210.6 V206.8 C637.5,201.2 650.3,201.2 651.3,206.8 V210.6" fill="#fff" stroke="#222" stroke-width="1.1"/>
<path d="M631,225.1 V218.5 Q631,215.4 634.2,215.4 Q637.4,215.4 637.4,219.5 V223" fill="none" stroke="#222" stroke-width="1.1"/>
<path d="M645.6,234.8 V230.6 L650.2,234.8 Z" fill="#fff" stroke="#222" stroke-width="1"/>
<path d="M592.3,294.8 H627.5" stroke="#111" stroke-width="1.8"/>
<path d="M627.7,263 V271.8 M629,263 V271.8 M630,271.8 V284.6 Q630,287.5 627.6,287.5 V300.6 H648.7 V287.5 Q646.2,287.5 646.2,284.6 V271.8 M630.9,287.5 V300.6 M645.4,287.5 V300.6" fill="none" stroke="#222" stroke-width="1.1"/>
<path d="M635,300.6 V350.5 Q635,353.6 638.2,353.6 Q641.5,353.6 641.5,350.5 V300.6" fill="none" stroke="#222" stroke-width="1.2"/>
<path d="M605.5,263 V208 C605.5,203.6 608.4,201.6 612,201.6 C615,201.6 617.5,203 619.5,205.2 L650.5,234.4" fill="none" stroke="#222" stroke-width="3"/>
<path d="M605.5,263 V208 C605.5,203.6 608.4,201.6 612,201.6 C615,201.6 617.5,203 619.5,205.2 L650.5,234.4" fill="none" stroke="#fff" stroke-width="1.1"/>
<path d="M592.3,365.5 H661" stroke="#111" stroke-width="2"/>
</svg>
</body></html>
